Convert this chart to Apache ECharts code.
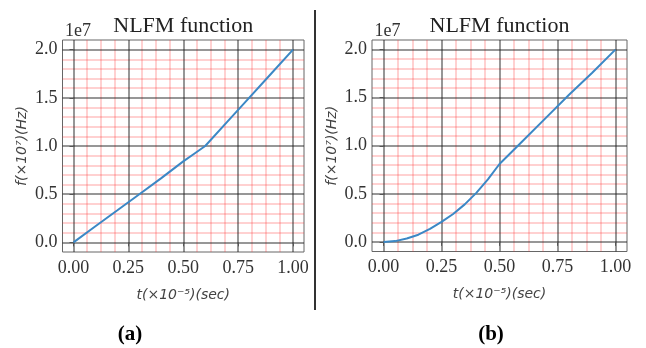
<!DOCTYPE html>
<html>
<head>
<meta charset="utf-8">
<script src="https://cdn.jsdelivr.net/npm/echarts@6/dist/echarts.min.js"></script>
<style>
html,body{margin:0;padding:0;background:#fff;}
#c{width:646px;height:348px;}
</style>
</head>
<body>
<div id="c"></div>
<script>
// ---- data (f in units of 1e7 Hz, t in units of 1e-5 s) ----
const tA = [0, 0.1, 0.2, 0.3, 0.4, 0.5, 0.55, 0.6, 0.7, 0.8, 0.9, 1.0];
const fA = [0, 0.167, 0.333, 0.5, 0.667, 0.84, 0.92, 1.0, 1.25, 1.5, 1.75, 2.0];
const tB = [0, 0.05, 0.1, 0.15, 0.2, 0.25, 0.3, 0.35, 0.4, 0.45, 0.5, 0.6, 0.7, 0.8, 0.9, 1.0];
const fB = [0, 0.008, 0.035, 0.075, 0.135, 0.208, 0.29, 0.39, 0.51, 0.65, 0.81, 1.05, 1.29, 1.53, 1.76, 2.0];

const xMajorTicks = [0, 0.25, 0.5, 0.75, 1.0];
const xMinorTicks = [0.0625, 0.125, 0.1875, 0.3125, 0.375, 0.4375, 0.5625, 0.625, 0.6875, 0.8125, 0.875, 0.9375];
const yMajorTicks = [0, 0.5, 1.0, 1.5, 2.0];
const yMinorTicks = [0.1, 0.2, 0.3, 0.4, 0.6, 0.7, 0.8, 0.9, 1.1, 1.2, 1.3, 1.4, 1.6, 1.7, 1.8, 1.9];

const titleText = 'NLFM function';
const offsetText = '1e7';
const xName = 't(×10⁻⁵)(sec)';
const yName = 'f(×10⁷)(Hz)';
const panelLabels = ['(a)', '(b)'];

// ---- styles ----
const SERIF = '"Liberation Serif", "Times New Roman", serif';
const SANS = '"DejaVu Sans", sans-serif';
const MAJOR = 'rgba(30,30,30,0.62)';
const MINOR = 'rgba(255,50,50,0.3)';

const grids = [
  {left: 62.5, top: 40, width: 241.5, height: 212},
  {left: 372, top: 40, width: 255, height: 211.5}
];

const xAxes = [], yAxes = [], series = [], graphics = [];
const panels = [[tA, fA], [tB, fB]];

grids.forEach((g, i) => {
  xAxes.push({
    type: 'value', gridIndex: i, min: -0.05, max: 1.05, z: 3,
    name: xName, nameLocation: 'middle', nameGap: 36,
    nameTextStyle: {fontFamily: SANS, fontStyle: 'italic', fontSize: 14, color: '#444'},
    axisLine: {show: false},
    axisTick: {show: true, customValues: xMajorTicks, length: 4, lineStyle: {color: '#555'}},
    axisLabel: {show: true, customValues: xMajorTicks, margin: 7, fontFamily: SERIF, fontSize: 18, color: '#333',
      formatter: v => Number(v).toFixed(2)},
    splitLine: {show: true, lineStyle: {color: MAJOR, width: 1.5}}
  });
  xAxes.push({
    type: 'value', gridIndex: i, min: -0.05, max: 1.05, z: 1,
    axisLine: {show: false},
    axisTick: {show: false, customValues: xMinorTicks},
    axisLabel: {show: false, customValues: xMinorTicks},
    splitLine: {show: true, lineStyle: {color: MINOR, width: 1.5}}
  });
  yAxes.push({
    type: 'value', gridIndex: i, min: -0.1, max: 2.1, z: 3,
    name: yName, nameLocation: 'middle', nameGap: 33, nameRotate: 90,
    nameTextStyle: {fontFamily: SANS, fontStyle: 'italic', fontSize: 14, color: '#444'},
    axisLine: {show: false},
    axisTick: {show: true, customValues: yMajorTicks, length: 4, lineStyle: {color: '#555'}},
    axisLabel: {show: true, customValues: yMajorTicks, margin: 5, fontFamily: SERIF, fontSize: 18, color: '#333',
      formatter: v => Number(v).toFixed(1)},
    splitLine: {show: true, lineStyle: {color: MAJOR, width: 1.5}}
  });
  yAxes.push({
    type: 'value', gridIndex: i, min: -0.1, max: 2.1, z: 1,
    axisLine: {show: false},
    axisTick: {show: false, customValues: yMinorTicks},
    axisLabel: {show: false, customValues: yMinorTicks},
    splitLine: {show: true, lineStyle: {color: MINOR, width: 1.5}}
  });
  const [t, f] = panels[i];
  series.push({
    type: 'line', xAxisIndex: 2 * i, yAxisIndex: 2 * i, z: 5,
    data: t.map((v, k) => [v, f[k]]),
    showSymbol: false, symbol: 'none', smooth: false, animation: false,
    lineStyle: {color: '#3b88c6', width: 2}
  });
  const cx = g.left + g.width / 2;
  graphics.push({
    type: 'text', x: cx, y: 26, z: 10,
    style: {text: titleText, fontFamily: SERIF, fontSize: 22, fill: '#222',
      align: 'center', verticalAlign: 'middle', textAlign: 'center', textVerticalAlign: 'middle'}
  });
  graphics.push({
    type: 'text', x: g.left + 2.5, y: 31, z: 10,
    style: {text: offsetText, fontFamily: SERIF, fontSize: 18, fill: '#333',
      align: 'left', verticalAlign: 'middle', textAlign: 'left', textVerticalAlign: 'middle'}
  });
});

graphics.push({
  type: 'text', x: 130, y: 335, z: 10,
  style: {text: panelLabels[0], fontFamily: SERIF, fontSize: 21, fontWeight: 'bold', fill: '#000',
    align: 'center', verticalAlign: 'middle', textAlign: 'center', textVerticalAlign: 'middle'}
});
graphics.push({
  type: 'text', x: 491, y: 335, z: 10,
  style: {text: panelLabels[1], fontFamily: SERIF, fontSize: 21, fontWeight: 'bold', fill: '#000',
    align: 'center', verticalAlign: 'middle', textAlign: 'center', textVerticalAlign: 'middle'}
});
graphics.push({
  type: 'line', z: 10,
  shape: {x1: 315, y1: 10, x2: 315, y2: 310},
  style: {stroke: '#333', lineWidth: 2}
});

const chart = echarts.init(document.getElementById('c'), null, {renderer: 'canvas'});
chart.setOption({
  animation: false,
  backgroundColor: '#fff',
  grid: grids.map(g => Object.assign({show: true, borderColor: '#666', borderWidth: 1, backgroundColor: 'transparent', containLabel: false}, g)),
  xAxis: xAxes,
  yAxis: yAxes,
  series: series,
  graphic: {elements: graphics}
});
</script>
</body>
</html>
